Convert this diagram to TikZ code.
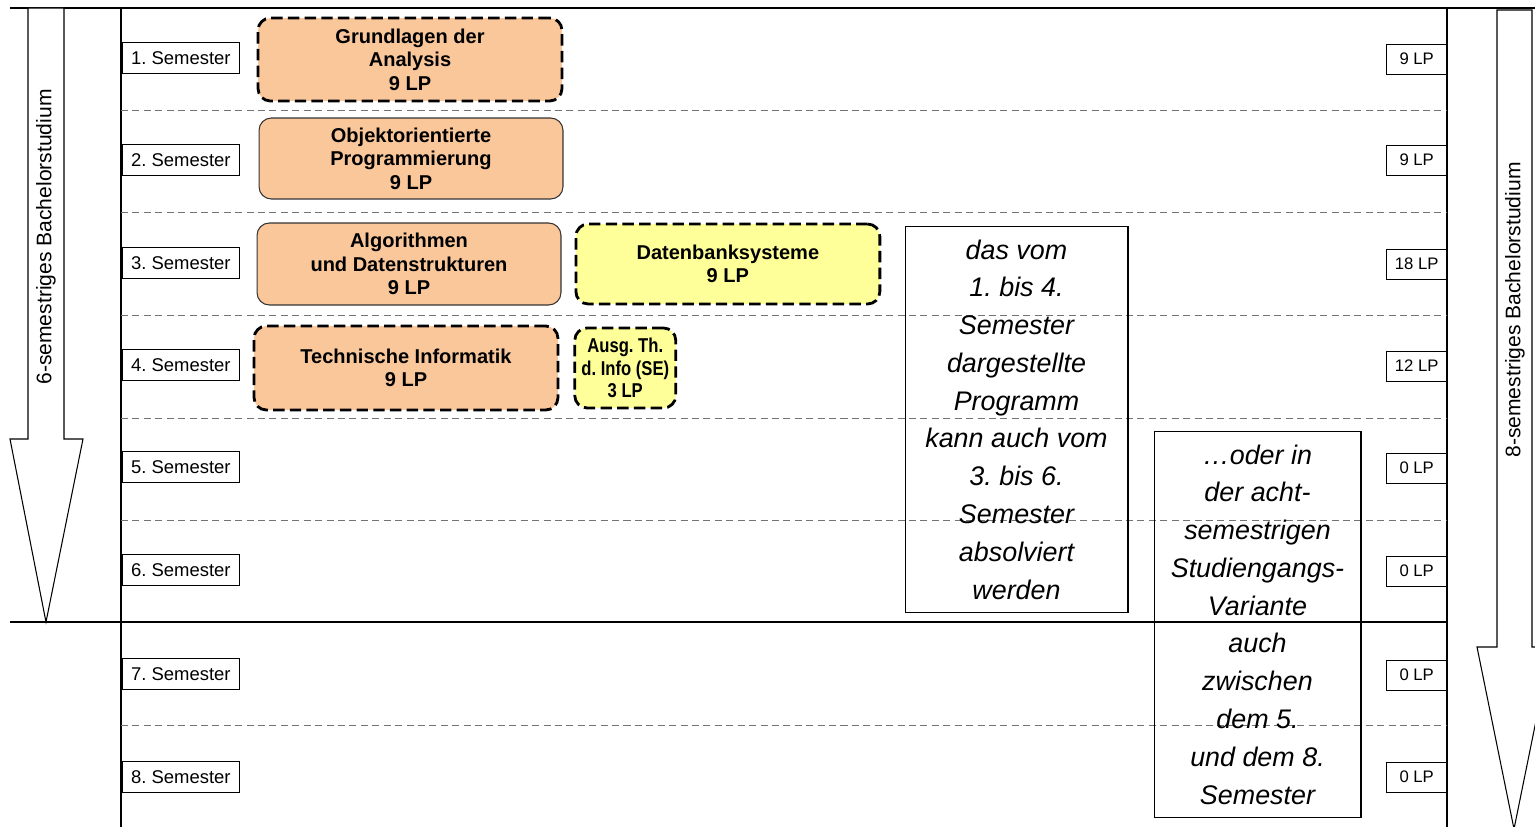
\documentclass[tikz,border=0pt]{standalone}
\usepackage{fontspec}
\setmainfont{Liberation Sans}
\newfontfamily\schmal{Liberation Sans}[FakeStretch=0.83]
\usetikzlibrary{positioning}
\frenchspacing
\definecolor{modorange}{RGB}{250,199,155}
\definecolor{modgelb}{RGB}{255,255,153}
\tikzset{
  sem/.style    = {draw=black, fill=white, minimum width=2.34cm, minimum height=0.62cm,
                   inner sep=0pt, font=\fontsize{10.5}{12}\selectfont},
  lp/.style     = {draw=black, fill=white, minimum width=1.2cm, minimum height=0.6cm,
                   inner sep=0pt, font=\fontsize{9.5}{11}\selectfont},
  modul/.style  = {draw=black!80, line width=0.6pt, rounded corners=7pt, fill=modorange,
                   align=center, inner sep=0pt,
                   font=\fontsize{11.4}{13.4}\selectfont\bfseries},
  modulw/.style = {modul, draw=black, line width=1.6pt, dash pattern=on 6.5pt off 3pt},
  hinweis/.style = {draw=black, line width=0.6pt, align=center, inner sep=0pt,
                   font=\fontsize{15.3}{21.5}\selectfont\itshape},
  trenn/.style  = {draw=black!55, line width=0.5pt, dash pattern=on 4pt off 2.5pt},
  rahmen/.style = {draw=black, line width=0.7pt},
  pfeil/.style  = {draw=black, line width=0.6pt, fill=white},
}
\begin{document}
\begin{tikzpicture}[x=0.02cm, y=-0.02cm]
  \useasboundingbox (0,0) rectangle (1535,827);
  \clip (0,0) rectangle (1535,827);

  % Rahmen und Semesterzeilen
  \draw[rahmen] (10,8) -- (1535,8);
  \draw[rahmen] (121,8) -- (121,827);
  \draw[rahmen] (1447,8) -- (1447,827);
  \draw[rahmen] (10,622) -- (1447,622);
  \draw[trenn] (121,110) -- (1447,110);
  \draw[trenn] (121,212) -- (1447,212);
  \draw[trenn] (121,315) -- (1447,315);
  \draw[trenn] (121,418) -- (1447,418);
  \draw[trenn] (121,520) -- (1447,520);
  \draw[trenn] (121,725) -- (1447,725);

  % Pfeile links und rechts
  \draw[pfeil] (28,8) -- (28,439) -- (10,439) -- (46,622) -- (83,439) -- (64,439) -- (64,8) -- cycle;
  \node[rotate=90, font=\fontsize{12}{14}\selectfont] (sechs) at (46,237) {6-semestriges Bachelorstudium};
  \draw[pfeil] (1497,10) -- (1497,647) -- (1477,647) -- (1514,829) -- (1551,647) -- (1532,647) -- (1532,10) -- cycle;
  \node[rotate=90, font=\fontsize{12}{14}\selectfont] (acht) at (1515,310) {8-semestriges Bachelorstudium};

  % Semester
  \node[sem, anchor=west] (sem1) at (122,58) {1. Semester};
  \node[sem, anchor=west] (sem2) at (122,160) {2. Semester};
  \node[sem, anchor=west] (sem3) at (122,263) {3. Semester};
  \node[sem, anchor=west] (sem4) at (122,365) {4. Semester};
  \node[sem, anchor=west] (sem5) at (122,467) {5. Semester};
  \node[sem, anchor=west] (sem6) at (122,570) {6. Semester};
  \node[sem, anchor=west] (sem7) at (122,674) {7. Semester};
  \node[sem, anchor=west] (sem8) at (122,777) {8. Semester};

  % Leistungspunkte
  \node[lp, anchor=east] (lp1) at (1447,59) {9 LP};
  \node[lp, anchor=east] (lp2) at (1447,160) {9 LP};
  \node[lp, anchor=east] (lp3) at (1447,264) {18 LP};
  \node[lp, anchor=east] (lp4) at (1447,366) {12 LP};
  \node[lp, anchor=east] (lp5) at (1447,468) {0 LP};
  \node[lp, anchor=east] (lp6) at (1447,571) {0 LP};
  \node[lp, anchor=east] (lp7) at (1447,675) {0 LP};
  \node[lp, anchor=east] (lp8) at (1447,777) {0 LP};

  % Module
  \node[modulw, minimum width=6.08cm, minimum height=1.66cm] (ana) at (410,59.5) {Grundlagen der\\Analysis\\9 LP};
  \node[modul, minimum width=6.08cm, minimum height=1.62cm] (oop) at (411,158.5) {Objektorientierte\\Programmierung\\9 LP};
  \node[modul, minimum width=6.08cm, minimum height=1.64cm] (algo) at (409,264) {Algorithmen\\und Datenstrukturen\\9 LP};
  \node[modulw, fill=modgelb, minimum width=6.08cm, minimum height=1.6cm, right=0.26cm of algo] (dbs) {Datenbanksysteme\\9 LP};
  \node[modulw, minimum width=6.08cm, minimum height=1.68cm] (ti) at (406,368) {Technische Informatik\\9 LP};
  \node[modulw, fill=modgelb, minimum width=2.02cm, minimum height=1.6cm, right=0.28cm of ti,
        font=\fontsize{11.4}{13}\selectfont\schmal\bfseries] (ausg) {Ausg. Th.\\d. Info (SE)\\3 LP};

  % Hinweise
  \node[hinweis, minimum width=4.46cm, minimum height=7.74cm] (hinwA) at (1016.5,419.5)
    {das vom\\1. bis 4.\\Semester\\dargestellte\\Programm\\kann auch vom\\3. bis 6.\\Semester\\absolviert\\werden};
  \node[hinweis, minimum width=4.14cm, minimum height=7.74cm] (hinwB) at (1257.5,624.5)
    {…oder in\\der acht-\\semestrigen\\Studiengangs-\\Variante\\auch\\zwischen\\dem 5.\\und dem 8.\\Semester};
\end{tikzpicture}
\end{document}
